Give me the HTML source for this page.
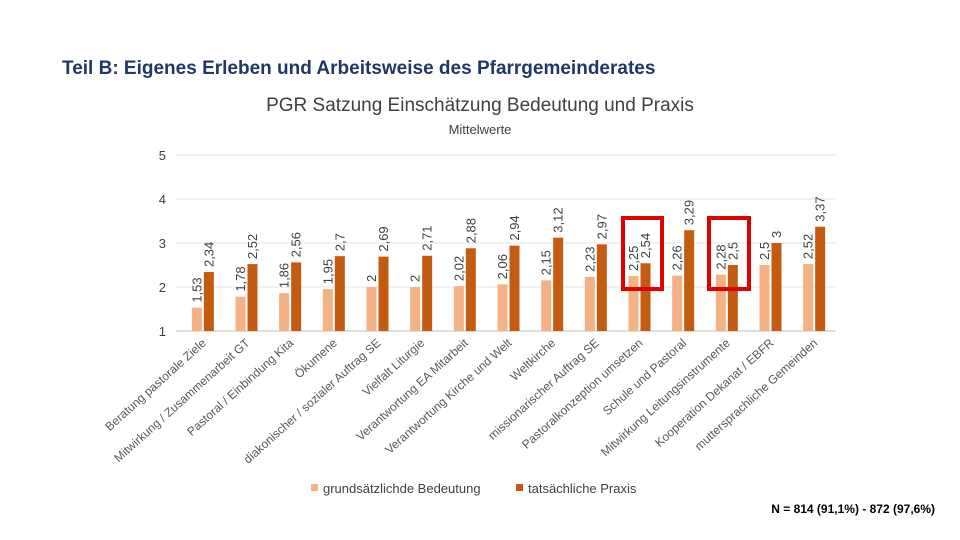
<!DOCTYPE html>
<html><head><meta charset="utf-8"><style>
body{margin:0;background:#fff;}
svg{display:block;font-family:"Liberation Sans",sans-serif;}
</style></head><body>
<svg id="chart" width="960" height="540" viewBox="0 0 960 540">
<text x="62" y="74" font-size="19" font-weight="bold" fill="#1f3864">Teil B: Eigenes Erleben und Arbeitsweise des Pfarrgemeinderates</text>
<text x="480" y="111" font-size="19" text-anchor="middle" fill="#404040">PGR Satzung Einschätzung Bedeutung und Praxis</text>
<text x="480" y="134" font-size="13" text-anchor="middle" fill="#404040">Mittelwerte</text>
<g id="grid"></g><g id="bars"></g><g id="labels"></g>
<rect x="623" y="218" width="39" height="71" fill="none" stroke="#e00000" stroke-width="4"/>
<rect x="709" y="218" width="40" height="71" fill="none" stroke="#e00000" stroke-width="4"/>
<rect x="311" y="484" width="7" height="7" fill="#f4b183"/>
<text x="323" y="493" font-size="13" fill="#404040">grundsätzlichde Bedeutung</text>
<rect x="516" y="484" width="7" height="7" fill="#c55a11"/>
<text x="528" y="493" font-size="13" fill="#404040">tatsächliche Praxis</text>
<text x="935" y="513" font-size="12" font-weight="bold" text-anchor="end" fill="#000">N = 814 (91,1%) - 872 (97,6%)</text>
</svg>
<script>
const categories=["Beratung pastorale Ziele","Mitwirkung / Zusammenarbeit GT","Pastoral / Einbindung Kita","Ökumene","diakonischer / sozialer Auftrag SE","Vielfalt Liturgie","Verantwortung EA Mitarbeit","Verantwortung Kirche und Welt","Weltkirche","missionarischer Auftrag SE","Pastoralkonzeption umsetzen","Schule und Pastoral","Mitwirkung Leitungsinstrumente","Kooperation Dekanat / EBFR","muttersprachliche Gemeinden"];
const bedeutung=[1.53,1.78,1.86,1.95,2,2,2.02,2.06,2.15,2.23,2.25,2.26,2.28,2.5,2.52];
const praxis=[2.34,2.52,2.56,2.7,2.69,2.71,2.88,2.94,3.12,2.97,2.54,3.29,2.5,3,3.37];
const yTicks=[1,2,3,4,5];
const NS="http://www.w3.org/2000/svg";
const L=181,R=836,Y0=331,PU=44;
const y=v=>Y0-(v-1)*PU;
const gw=(R-L)/categories.length;
const xc=i=>L+gw*(i+0.5);
function mk(t,a,p){const e=document.createElementNS(NS,t);for(const k in a)e.setAttribute(k,a[k]);p.appendChild(e);return e;}
const grid=document.getElementById('grid'),bars=document.getElementById('bars'),labels=document.getElementById('labels');
const fmt=v=>String(v).replace('.',',');
yTicks.forEach(t=>{
  const l=mk('line',{x1:L-5,x2:R,y1:y(t),y2:y(t),stroke:t===1?'#bfbfbf':'#e4e4e4','stroke-width':1},grid);
  
  
  const tx=mk('text',{x:166,y:y(t)+5,'font-size':13,'text-anchor':'end',fill:'#404040'},grid);
  tx.textContent=t;
  
  
});
categories.forEach((c,i)=>{
  const cx=xc(i);
  [[bedeutung[i],cx-11,'#f4b183','bar-bedeutung'],[praxis[i],cx+1,'#c55a11','bar-praxis']].forEach(([v,x,col,nm])=>{
    const r=mk('rect',{x:x,y:y(v),width:10,height:Y0-y(v),fill:col},bars);
    
    
    const tx=mk('text',{transform:`translate(${x+9.5},${y(v)-5}) rotate(-90)`,'font-size':13,fill:'#404040'},labels);
    tx.textContent=fmt(v);
    
    
  });
  const tl=mk('text',{transform:`translate(${cx+4},${Y0+13}) rotate(-42)`,'font-size':12,'text-anchor':'end',fill:'#595959'},labels);
  tl.textContent=c;
  
  
});
</script>
</body></html>
